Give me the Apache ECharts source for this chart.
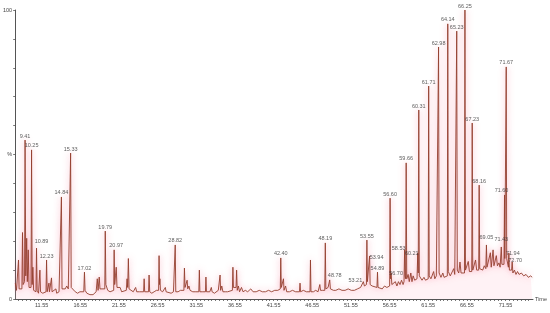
<!DOCTYPE html>
<html>
<head>
<meta charset="utf-8">
<script src="https://cdn.jsdelivr.net/npm/echarts@6/dist/echarts.min.js"></script>
<style>
  html, body { margin: 0; padding: 0; background: #fff; }
  #chart { width: 550px; height: 313px; }
</style>
</head>
<body>
<div id="chart"></div>
<script>
// chromatogram trace, [time (min), intensity (%)]
var trace = [
  [8.15,5.5],[8.3,3],[8.45,2.5],[8.5,3],[8.56,13.5],[8.64,3.5],[8.8,3],
  [9.0,3.5],[9.08,23],[9.16,5],[9.34,6],[9.41,55],[9.5,8],[9.62,21],[9.7,6],
  [9.82,17],[9.92,4],[10.18,4],[10.25,51.6],[10.33,5],[10.42,11],[10.52,3],
  [10.7,2.5],[10.82,2.5],[10.89,17.6],[10.97,3],[11.15,2],[11.27,2.5],[11.33,10],
  [11.41,2.5],[11.7,2],[11.9,2.5],[12.12,2.5],[12.19,13.5],[12.27,2.5],[12.44,2.5],
  [12.5,5.5],[12.56,2.5],[12.77,2.5],[12.83,7.3],[12.9,2.5],[13.1,2],[13.4,3.5],
  [13.5,2],[13.8,2.5],[14.04,3],[14.11,35.3],[14.19,3.5],[14.4,4],[14.6,3.5],
  [14.8,4.5],[15.0,3.5],[15.24,4],[15.3,50.5],[15.38,4],[15.6,3.5],[15.9,2.5],
  [16.2,2],[16.5,2.5],[16.7,2],[17.0,2.5],[17.09,9.3],[17.17,3],[17.4,2],
  [17.8,1.5],[18.2,1.5],[18.6,2.5],[18.75,7],[18.85,3],[19.0,7.6],[19.1,3.5],
  [19.72,3.5],[19.78,23.5],[19.86,5],[20.0,5.5],[20.1,3],[20.4,2.5],[20.6,3],
  [20.87,3],[20.93,17],[21.0,5],[21.1,8],[21.2,11],[21.3,4],[21.5,3.5],[21.7,4],
  [21.9,2.5],[22.5,3],[22.6,7],[22.68,4],[22.77,14],[22.86,3.5],[23.1,3],[23.4,2.5],
  [23.71,4],[23.85,2.5],[24.2,2.5],[24.74,2.5],[24.81,7],[24.88,2.5],[25.38,2.5],
  [25.45,8.3],[25.53,2.5],[25.8,2],[26.1,2.5],[26.4,3],[26.68,3],[26.74,15],
  [26.8,5],[26.85,7],[26.92,3],[27.2,2.5],[27.55,4],[27.65,2.5],[27.9,2],[28.3,2],
  [28.6,2.5],[28.76,2.5],[28.83,18.7],[28.9,2.5],[29.2,2.5],[29.5,3],[29.95,3],
  [30.02,10.7],[30.1,4],[30.37,6.5],[30.45,3.5],[30.6,4.5],[30.75,3],[31.1,2.5],
  [31.5,2.5],[31.88,2.5],[31.95,10],[32.02,2.5],[32.4,2.5],[32.74,2.5],[32.8,7.6],
  [32.87,2.5],[33.1,3],[33.3,2.5],[33.5,4],[33.6,2.5],[33.9,2],[34.4,3],[34.56,2.5],
  [34.63,8.3],[34.7,3],[34.85,4.5],[35.0,2.5],[35.3,2.5],[35.6,2.5],[36.22,3],
  [36.29,11],[36.36,4],[36.7,4],[36.77,10],[36.85,3],[37.0,4.5],[37.15,2.5],
  [37.4,4],[37.6,2.5],[37.9,3],[38.2,2.5],[38.6,3.5],[38.9,2.5],[39.3,2.5],[39.7,3],
  [40.1,2.5],[40.5,2.5],[40.9,3],[41.3,2.5],[41.7,3],[42.1,3],[42.42,3.5],
  [42.48,14.2],[42.55,4],[42.76,3.5],[42.83,7],[42.9,3],[43.1,4.5],[43.25,2.5],
  [43.6,2.5],[44.0,3],[44.4,2.5],[44.9,2.5],[44.97,5.5],[45.04,2.5],[45.4,3],
  [45.8,2.5],[46.26,2.5],[46.32,13.5],[46.39,2.5],[46.7,2.5],[47.0,3],[47.3,2.5],
  [47.53,5],[47.62,3],[47.9,3],[48.17,3],[48.24,19.4],[48.31,3.5],[48.6,4],
  [48.74,3.5],[48.81,6.6],[48.9,3.5],[49.1,4],[49.3,3],[49.6,3],[50.0,3.5],
  [50.4,3],[50.8,3],[51.2,3.5],[51.6,3],[52.0,3],[52.4,3.5],[52.8,4],[53.0,4.5],
  [53.16,6],[53.3,4.5],[53.56,5],[53.62,20.4],[53.68,6],[53.9,5.5],[53.97,14.9],
  [54.04,5],[54.3,4.5],[54.5,4],[54.92,4],[54.99,9.3],[55.06,4],[55.3,4.5],
  [55.6,3.5],[55.9,4.5],[56.2,4],[56.56,4.5],[56.62,34.9],[56.68,7],[56.75,9],
  [56.85,5],[57.1,5],[57.3,6],[57.5,4.5],[57.7,6],[57.9,5],[58.1,6.5],[58.3,5],
  [58.42,6],[58.5,17],[58.56,8],[58.63,7],[58.7,47.1],[58.77,7],[58.95,8.5],
  [59.1,6],[59.3,9],[59.45,6],[59.6,8],[59.8,6.5],[60.0,7],[60.1,7],[60.2,15.9],
  [60.26,9],[60.33,65.4],[60.4,8],[60.63,8.5],[60.75,6.5],[61.0,7.5],[61.2,6.5],
  [61.4,7],[61.55,7],[61.61,73.7],[61.68,8],[61.9,7],[62.1,7.5],[62.25,9.5],
  [62.4,7],[62.6,8],[62.83,7.5],[62.89,87.2],[62.96,9],[63.2,7.5],[63.44,9],
  [63.6,7.5],[63.8,8],[64.02,8],[64.08,95.2],[64.15,9.5],[64.4,8],[64.6,8.5],
  [64.85,10.5],[64.98,8.5],[65.18,8.5],[65.24,92.7],[65.31,10],[65.5,9],
  [65.66,12.8],[65.8,9],[66.24,9],[66.3,100],[66.37,10],[66.55,9.5],[66.73,13],
  [66.88,9.5],[67.18,9.5],[67.24,60.9],[67.31,10],[67.5,10],[67.67,13.5],
  [67.82,10],[68.08,10],[68.14,39.4],[68.21,10.5],[68.4,11],[68.6,10],[68.8,11.5],
  [69.0,10.5],[69.08,18.7],[69.15,11],[69.4,11],[69.59,16],[69.7,11],[69.94,17],
  [70.05,11.5],[70.25,11],[70.36,15],[70.5,11.5],[70.7,12.5],[70.85,11],
  [70.93,11.5],[71.0,18],[71.08,12],[71.35,12],[71.42,36],[71.46,14],[71.64,80.3],
  [71.7,14],[71.92,11],[71.98,15.9],[72.05,10],[72.33,10],[72.41,12.8],[72.5,9],
  [72.7,10],[72.9,8.5],[73.1,9.5],[73.3,8.5],[73.6,9],[73.9,8],[74.2,8.5],
  [74.5,7.5],[74.8,8],[75.0,7.5]
];

// labelled peaks: printed text, apex time, apex height
var peakText = ['9.41','10.25','10.89','12.23','14.84','15.33','17.02','19.79','20.97',
  '28.82','42.40','48.19','48.78','53.21','53.55','53.94','54.89','56.60','56.70',
  '58.53','59.66','60.21','60.31','61.71','62.98','64.14','65.23','66.25','67.23',
  '68.16','69.05','71.43','71.60','71.67','71.94','72.70'];
var peakTime = [9.41,10.25,10.89,12.19,14.11,15.3,17.09,19.78,20.93,
  28.83,42.48,48.24,48.81,53.16,53.62,53.97,54.99,56.62,56.75,
  58.5,58.7,60.2,60.33,61.61,62.89,64.08,65.24,66.3,67.24,
  68.14,69.08,71.0,71.42,71.64,71.98,72.41];
var peakHeight = [55,51.6,17.6,13.5,35.3,50.5,9.3,23.5,17,
  18.7,14.2,19.4,6.6,6,20.4,14.9,9.3,34.9,9,
  17,47.1,15.9,65.4,73.7,87.2,95.2,92.7,100,60.9,
  39.4,18.7,18,36,80.3,15.9,12.8];

// x tick labels
var timeTicks = [11.55,16.55,21.55,26.55,31.55,36.55,41.55,46.55,51.55,56.55,61.55,66.55,71.55];

// label nudges in px (layout only)
var nudge = {
  '10.89':[5,-3], '20.97':[2,0], '48.78':[5,0], '53.21':[-8,3], '53.94':[7,6],
  '56.70':[5,4], '58.53':[-6,3], '60.21':[-6,4], '69.05':[0,-3], '71.43':[0,-3],
  '71.60':[-3,0], '71.94':[4,4], '72.70':[3,2]
};

var minorTicks = [];
for (var t = 8.55; t <= 75; t += 0.5) minorTicks.push(+t.toFixed(2));

var font = 'Liberation Sans Narrow, Liberation Sans, Arial, sans-serif';

var labelData = [];
for (var i = 0; i < peakText.length; i++) {
  var n = nudge[peakText[i]] || [0, 0];
  labelData.push({
    value: [peakTime[i], peakHeight[i]],
    name: peakText[i],
    label: { offset: n }
  });
}

var myChart = echarts.init(document.getElementById('chart'));
var option = {
  animation: false,
  grid: { left: 14, right: 13, top: 10, bottom: 14 },
  xAxis: {
    type: 'value',
    min: 8.13,
    max: 75.1,
    name: 'Time',
    nameLocation: 'end',
    nameGap: 2,
    nameTextStyle: { fontSize: 5.5, color: '#444', fontFamily: font, verticalAlign: 'middle' },
    axisLine: { lineStyle: { color: '#555', width: 1 } },
    axisTick: { customValues: minorTicks, length: 2, lineStyle: { color: '#555', width: 0.8 } },
    axisLabel: {
      customValues: timeTicks,
      formatter: function (v) { return v.toFixed(2); },
      fontSize: 5.5, color: '#444', fontFamily: font, margin: 3
    },
    splitLine: { show: false }
  },
  yAxis: {
    type: 'value',
    min: 0,
    max: 100,
    axisLine: { show: true, lineStyle: { color: '#555', width: 1 } },
    axisTick: { show: true, customValues: [0,10,20,30,40,50,60,70,80,90,100], length: 2, lineStyle: { color: '#555', width: 0.8 } },
    axisLabel: {
      customValues: [0, 50, 100],
      formatter: function (v) { return v === 50 ? '%' : String(v); },
      fontSize: 5.5, color: '#444', fontFamily: font, margin: 3
    },
    splitLine: { show: false }
  },
  series: [
    {
      type: 'line',
      data: trace,
      symbol: 'none',
      lineStyle: {
        color: '#94402f',
        width: 0.9,
        shadowColor: 'rgba(245,70,110,0.6)',
        shadowBlur: 6
      },
      areaStyle: { color: 'rgba(255,195,210,0.3)' },
      z: 2
    },
    {
      type: 'scatter',
      data: labelData,
      symbolSize: 0,
      label: {
        show: true,
        position: 'top',
        distance: 1,
        formatter: '{b}',
        fontSize: 5.5,
        color: '#333',
        fontFamily: font
      },
      z: 3
    }
  ]
};
myChart.setOption(option);
</script>
</body>
</html>
